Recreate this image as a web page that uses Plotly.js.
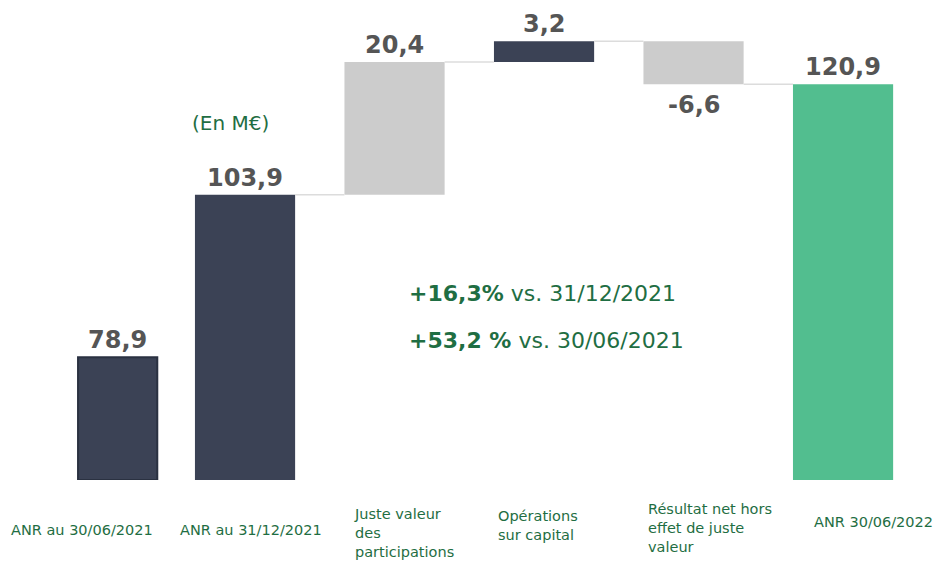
<!DOCTYPE html>
<html>
<head>
<meta charset="utf-8">
<script src="https://cdn.plot.ly/plotly-3.0.1.min.js"></script>
<style>
  html, body { margin: 0; padding: 0; background: #fff; }
  #anr { width: 948px; height: 561px; }
</style>
</head>
<body>
<div id="anr"></div>
<script>
// categories, measure types and values of the ANR bridge (M€)
var categories = [
    'ANR au 30/06/2021',
    'ANR au 31/12/2021',
    'Juste valeur<br>des<br>participations',
    'Opérations<br>sur capital',
    'Résultat net hors<br>effet de juste<br>valeur',
    'ANR 30/06/2022'
];
var measures = ['absolute', 'absolute', 'relative', 'relative', 'relative', 'total'];
var values = [78.9, 103.9, 20.4, 3.2, -6.6, 120.9];

// styling
var barColors = ['#3b4255', '#3b4255', '#cccccc', '#3b4255', '#cccccc', '#52be8f'];
var barLineWidths = [2, 0, 0, 0, 0, 0];
var barWidths = [0.53, 0.67, 0.67, 0.67, 0.67, 0.67];
var barOffsets = [-0.117, -0.335, -0.335, -0.335, -0.335, -0.335];
var labelLeftPx = [9, 178, 352, 496, 646, 812];
var labelMidPx = [530, 530, 533, 525, 528, 522];
var green = '#1f6e43';
var yMin = 60, yMax = 128;
var W = 948, H = 561, mt = 38, mb = 81;

var fmt = function (v) { return v.toFixed(1).replace('.', ','); };

// running totals -> bar bases
var bases = [], heights = [], ends = [];
var running = 0;
measures.forEach(function (m, i) {
    if (m === 'relative') {
        bases.push(running);
        heights.push(values[i]);
        running += values[i];
    } else {
        running = values[i];
        bases.push(yMin);
        heights.push(values[i] - yMin);
    }
    ends.push(running);
});

var xs = categories.map(function (c, i) { return i; });

// connector lines
var cx = [], cy = [];
for (var i = 0; i < xs.length - 1; i++) {
    if (measures[i + 1] === 'absolute') continue;
    cx.push(xs[i] + barOffsets[i] + barWidths[i], xs[i + 1] + barOffsets[i + 1], null);
    cy.push(ends[i], ends[i], null);
}

var data = [
    {
        type: 'scatter',
        mode: 'lines',
        x: cx,
        y: cy,
        line: { color: '#dcdcdc', width: 1.5 },
        hoverinfo: 'skip'
    },
    {
        type: 'bar',
        x: xs,
        y: heights,
        base: bases,
        width: barWidths,
        offset: barOffsets,
        marker: { color: barColors, line: { color: '#2a3141', width: barLineWidths } },
        hoverinfo: 'skip'
    }
];

var annotations = [];
// value labels
values.forEach(function (v, i) {
    var neg = v < 0;
    var top = neg ? ends[i] : Math.max(ends[i], bases[i]);
    annotations.push({
        x: xs[i] + barOffsets[i] + barWidths[i] / 2,
        y: top,
        xref: 'x', yref: 'y',
        text: fmt(v),
        showarrow: false,
        yanchor: neg ? 'top' : 'bottom',
        yshift: neg ? -5 : 1,
        font: { family: 'DejaVu Sans', size: 24, color: '#555555', weight: 'bold' }
    });
});
// category labels
var plotH = H - mt - mb;
categories.forEach(function (c, i) {
    annotations.push({
        x: labelLeftPx[i] / W,
        y: (H - mb - labelMidPx[i]) / plotH,
        xref: 'paper', yref: 'paper',
        text: c,
        showarrow: false,
        xanchor: 'left', yanchor: 'middle', align: 'left',
        font: { family: 'DejaVu Sans', size: 14.5, color: green }
    });
});
// notes
annotations.push({
    x: 230 / W, y: (H - mb - 123) / plotH, xref: 'paper', yref: 'paper',
    text: '(En M€)', showarrow: false, xanchor: 'center', yanchor: 'middle',
    font: { family: 'DejaVu Sans', size: 20, color: green }
});
annotations.push({
    x: 407 / W, y: (H - mb - 293) / plotH, xref: 'paper', yref: 'paper',
    text: '<b>+16,3%</b> vs. 31/12/2021', showarrow: false, xanchor: 'left', yanchor: 'middle',
    font: { family: 'DejaVu Sans', size: 22, color: green }
});
annotations.push({
    x: 407 / W, y: (H - mb - 340) / plotH, xref: 'paper', yref: 'paper',
    text: '<b>+53,2 %</b> vs. 30/06/2021', showarrow: false, xanchor: 'left', yanchor: 'middle',
    font: { family: 'DejaVu Sans', size: 22, color: green }
});

var layout = {
    width: W,
    height: H,
    margin: { l: 0, r: 0, t: mt, b: mb, pad: 0 },
    paper_bgcolor: '#ffffff',
    plot_bgcolor: '#ffffff',
    showlegend: false,
    xaxis: { range: [-0.639, 5.702], visible: false, fixedrange: true },
    yaxis: { range: [yMin, yMax], visible: false, fixedrange: true },
    annotations: annotations
};

Plotly.newPlot('anr', data, layout, { displayModeBar: false, staticPlot: true });
</script>
</body>
</html>
